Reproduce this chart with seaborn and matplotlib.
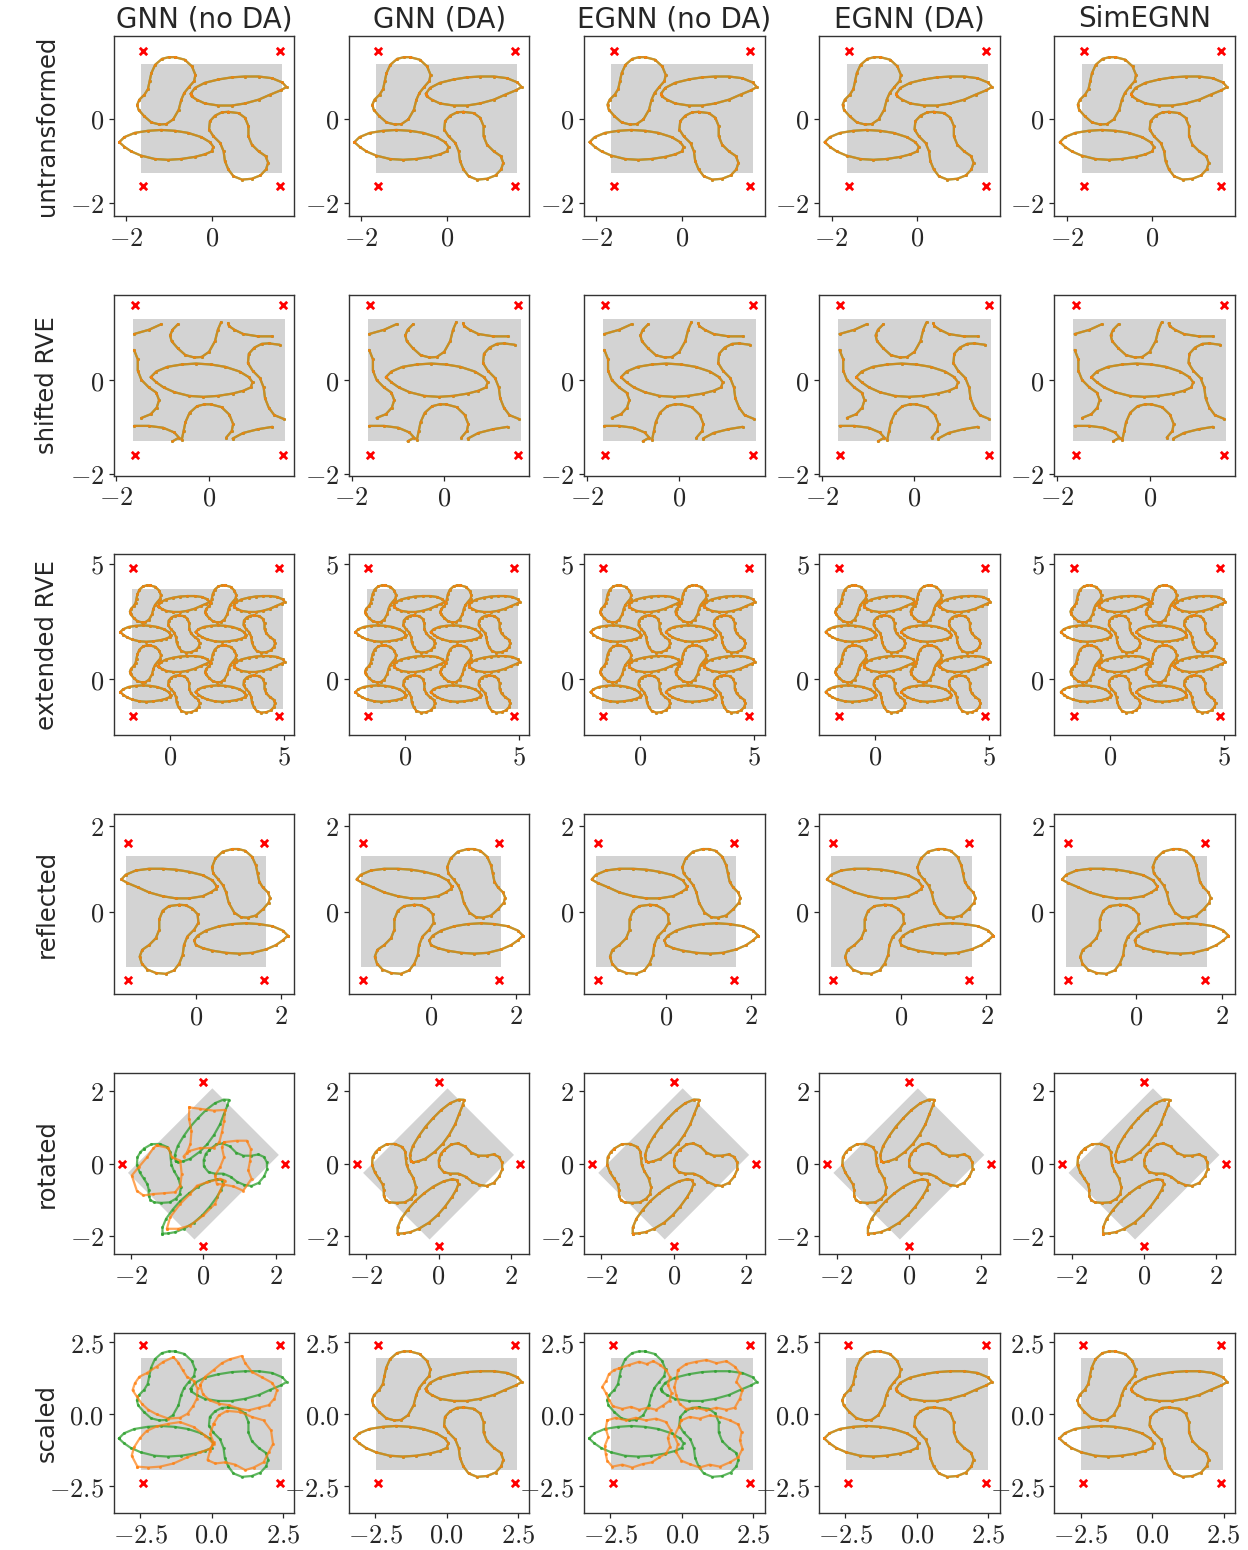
import numpy as np
import pandas as pd
import matplotlib
matplotlib.use("Agg")
import matplotlib.pyplot as plt
import seaborn as sns
from matplotlib.patches import Polygon

# ---------------------------------------------------------------- labels
COLUMN_TITLES = ["GNN (no DA)", "GNN (DA)", "EGNN (no DA)", "EGNN (DA)", "SimEGNN"]
ROW_LABELS = ["untransformed", "shifted RVE", "extended RVE", "reflected", "rotated", "scaled"]

# ---------------------------------------------------------------- unit cell
CELL_HALF_X = 1.65
CELL_HALF_Y = 1.30
CORNER_NODE = 1.6            # virtual corner nodes at (+-1.6, +-1.6)
EXTENDED_CORNERS = [-1.6, 4.8]

# ---------------------------------------------------------------- inclusion outlines
BEAN_A_X = [-0.86, -0.63, -0.46, -0.38, -0.41, -0.53, -0.64, -0.71, -0.77, -0.90, -1.06, -1.22,
            -1.41, -1.58, -1.71, -1.74, -1.69, -1.57, -1.49, -1.45, -1.41, -1.32, -1.16, -1.00]
BEAN_A_Y = [1.46, 1.40, 1.24, 1.04, 0.89, 0.75, 0.61, 0.45, 0.21, -0.02, -0.13, -0.14,
            -0.09, 0.06, 0.21, 0.33, 0.45, 0.57, 0.70, 0.89, 1.08, 1.28, 1.42, 1.46]

LEAF_A_X = [-0.49, -0.39, -0.16, 0.16, 0.47, 0.78, 1.10, 1.41, 1.65, 1.75,
            1.61, 1.37, 1.10, 0.78, 0.47, 0.16, -0.16, -0.35, -0.47]
LEAF_A_Y = [0.59, 0.73, 0.85, 0.93, 0.98, 1.00, 1.00, 0.96, 0.86, 0.75,
            0.67, 0.57, 0.45, 0.36, 0.31, 0.31, 0.36, 0.45, 0.53]

LEAF_B_X = [-2.16, -2.04, -1.80, -1.49, -1.18, -0.86, -0.55, -0.24, -0.04, 0.04,
            0.00, -0.16, -0.39, -0.71, -1.02, -1.33, -1.65, -1.88, -2.04]
LEAF_B_Y = [-0.56, -0.44, -0.34, -0.29, -0.27, -0.29, -0.34, -0.44, -0.56, -0.67,
            -0.78, -0.85, -0.91, -0.96, -0.98, -0.96, -0.88, -0.78, -0.67]

BEAN_B_X = [0.39, 0.63, 0.78, 0.86, 0.86, 0.94, 1.10, 1.26, 1.32, 1.27, 1.14, 0.94,
            0.71, 0.51, 0.39, 0.31, 0.28, 0.20, 0.04, -0.06, -0.04, 0.08, 0.24]
BEAN_B_Y = [0.16, 0.13, 0.02, -0.18, -0.42, -0.62, -0.78, -0.89, -1.05, -1.21, -1.35, -1.43,
            -1.45, -1.37, -1.21, -1.01, -0.78, -0.58, -0.42, -0.26, -0.06, 0.07, 0.15]

# ---------------------------------------------------------------- transformations
SHIFT = (0.90, 0.63)
ROTATION_DEG = 45.0
SCALE = 1.5

# ---------------------------------------------------------------- failed predictions
ROT_GNN_NODA = [
    ([-0.39, -0.09, 0.28, 0.60, 0.57, 0.51, 0.44, 0.28, -0.09, -0.41, -0.55, -0.46, -0.36, -0.33, -0.40],
     [1.56, 1.52, 1.47, 1.49, 1.19, 0.87, 0.60, 0.44, 0.44, 0.35, 0.20, 0.30, 0.55, 0.90, 1.25]),
    ([0.57, 0.92, 1.20, 1.31, 1.29, 1.24, 1.33, 1.10, 0.83, 0.55, 0.37, 0.32, 0.46, 0.57, 0.51],
     [0.60, 0.64, 0.64, 0.41, 0.09, -0.18, -0.41, -0.74, -0.62, -0.57, -0.55, -0.32, -0.09, 0.18, 0.46]),
    ([-1.29, -0.97, -0.87, -0.64, -0.60, -0.64, -0.78, -1.10, -1.38, -1.66, -1.84, -1.98, -1.79, -1.56, -1.38],
     [0.51, 0.44, 0.18, 0.09, -0.28, -0.60, -0.78, -0.81, -0.83, -0.87, -0.74, -0.32, -0.09, 0.18, 0.44]),
    ([-1.01, -0.92, -0.64, -0.37, -0.18, 0.09, 0.46, 0.60, 0.46, 0.32, 0.00, -0.37, -0.69],
     [-1.79, -1.47, -1.10, -0.83, -0.60, -0.51, -0.41, -0.46, -0.74, -1.10, -1.42, -1.70, -1.79]),
]

SCALED_GNN_NODA = [
    ([-1.33, -1.68, -1.92, -2.27, -2.52, -2.68, -2.76, -2.62, -2.44, -2.21, -1.92, -1.51, -1.10,
      -0.84, -0.65, -0.51, -0.49, -0.63, -0.86, -1.01, -1.16],
     [1.99, 1.83, 1.66, 1.43, 1.31, 1.08, 0.84, 0.63, 0.37, 0.16, 0.00, -0.15, -0.12,
      0.02, 0.28, 0.55, 0.90, 1.17, 1.31, 1.54, 1.80]),
    ([-0.40, -0.22, 0.07, 0.36, 0.65, 1.06, 1.18, 1.41, 1.76, 2.11, 2.29, 2.20, 2.00, 1.65,
      1.30, 0.95, 0.60, 0.25, -0.07, -0.30],
     [1.02, 1.31, 1.54, 1.78, 1.92, 2.03, 1.78, 1.48, 1.29, 1.10, 0.84, 0.55, 0.32, 0.23,
      0.14, 0.20, 0.32, 0.37, 0.49, 0.70]),
    ([-2.59, -2.79, -2.71, -2.50, -2.27, -1.92, -1.51, -1.10, -0.63, -0.22, 0.07, -0.05, -0.40,
      -0.86, -1.33, -1.80, -2.21],
     [-1.82, -1.44, -1.15, -0.82, -0.58, -0.42, -0.33, -0.27, -0.44, -0.74, -1.03, -1.20, -1.32,
      -1.50, -1.71, -1.82, -1.85]),
    ([0.07, 0.25, 0.54, 1.01, 1.41, 1.82, 2.08, 2.15, 2.00, 1.82, 1.47, 1.18, 0.83, 0.48, 0.13,
      -0.14, -0.05, 0.07, -0.05],
     [-0.33, -0.04, 0.12, 0.08, -0.09, -0.21, -0.56, -1.03, -1.32, -1.67, -1.85, -1.94, -1.75,
      -1.67, -1.71, -1.59, -1.26, -0.97, -0.68]),
]

SCALED_EGNN_NODA = [
    ([-2.20, -1.84, -1.49, -1.23, -1.00, -0.76, -0.55, -0.41, -0.49, -0.36, -0.43, -0.67, -0.90,
      -1.20, -1.49, -1.78, -2.08, -2.41, -2.55, -2.66, -2.78, -2.64, -2.55, -2.37],
     [1.60, 1.72, 1.83, 1.75, 1.85, 1.72, 1.54, 1.29, 1.02, 0.75, 0.47, 0.30, 0.16,
      0.23, 0.16, 0.26, 0.19, 0.28, 0.51, 0.75, 0.96, 1.17, 1.40, 1.54]),
    ([-0.14, 0.15, 0.51, 0.86, 1.21, 1.56, 1.85, 2.03, 1.91, 2.12, 2.03, 1.85, 1.56, 1.21,
      0.86, 0.51, 0.15, -0.08, -0.20, -0.26, -0.18],
     [1.54, 1.75, 1.83, 1.89, 1.78, 1.85, 1.66, 1.43, 1.13, 0.84, 0.55, 0.23, 0.16, 0.23,
      0.14, 0.23, 0.19, 0.37, 0.67, 0.96, 1.25]),
    ([-2.61, -2.31, -1.96, -1.61, -1.26, -0.90, -0.55, -0.38, -0.49, -0.41, -0.55, -0.79, -1.05,
      -1.37, -1.73, -2.08, -2.43, -2.61, -2.66, -2.69, -2.57, -2.66],
     [-0.21, -0.12, -0.21, -0.12, -0.21, -0.15, -0.27, -0.56, -0.82, -1.12, -1.36, -1.50, -1.67,
      -1.73, -1.85, -1.75, -1.82, -1.61, -1.38, -1.09, -0.79, -0.50]),
    ([-0.02, 0.27, 0.62, 0.97, 1.33, 1.68, 1.97, 2.09, 2.03, 2.12, 1.97, 1.68, 1.33, 0.97,
      0.62, 0.27, -0.02, -0.20, -0.14, -0.26, -0.11],
     [-0.21, -0.09, -0.15, -0.04, -0.09, -0.21, -0.35, -0.62, -0.91, -1.20, -1.50, -1.67, -1.82,
      -1.75, -1.85, -1.73, -1.61, -1.32, -1.03, -0.74, -0.44]),
]

# ---------------------------------------------------------------- axes ranges & ticks
XLIMS = [(-2.29, 1.93), (-2.06, 1.84), (-2.45, 5.46), (-1.93, 2.31), (-2.48, 2.51), (-3.42, 2.89)]
YLIMS = [(-2.32, 1.97), (-2.03, 1.82), (-2.42, 5.40), (-1.93, 2.28), (-2.48, 2.50), (-3.44, 2.84)]
XTICKS = [[-2, 0], [-2, 0], [0, 5], [0, 2], [-2, 0, 2], [-2.5, 0.0, 2.5]]
YTICKS = [[-2, 0], [-2, 0], [0, 5], [0, 2], [-2, 0, 2], [-2.5, 0.0, 2.5]]
TICK_FMT = ["{:g}", "{:g}", "{:g}", "{:g}", "{:g}", "{:.1f}"]

# ---------------------------------------------------------------- styling
sns.set_style("ticks")
plt.rcParams["font.family"] = ["DejaVu Sans"]
plt.rcParams["mathtext.fontset"] = "cm"

GREEN = "#2ca02c"
ORANGE = "#ff7f0e"

BASE_SHAPES = [
    np.column_stack([BEAN_A_X, BEAN_A_Y]),
    np.column_stack([LEAF_A_X, LEAF_A_Y]),
    np.column_stack([LEAF_B_X, LEAF_B_Y]),
    np.column_stack([BEAN_B_X, BEAN_B_Y]),
]
PERIOD = np.array([2 * CELL_HALF_X, 2 * CELL_HALF_Y])
HALF = np.array([CELL_HALF_X, CELL_HALF_Y])


def closed(p):
    return np.vstack([p, p[:1]])


def rect(x0, x1, y0, y1):
    return np.array([[x0, y0], [x1, y0], [x1, y1], [x0, y1]])


def rot(p, deg):
    t = np.deg2rad(deg)
    m = np.array([[np.cos(t), -np.sin(t)], [np.sin(t), np.cos(t)]])
    return p @ m.T


def wrap_split(p):
    """Shift a closed outline inside the periodic cell and cut it where it wraps."""
    q = np.mod(p + np.array(SHIFT) + HALF, PERIOD) - HALF
    q = closed(q)
    jumps = np.where(np.any(np.abs(np.diff(q, axis=0)) > HALF, axis=1))[0]
    if len(jumps) == 0:
        return [q]
    start = jumps[0] + 1
    q = np.vstack([q[start:-1], q[:start]])
    jumps = np.where(np.any(np.abs(np.diff(q, axis=0)) > HALF, axis=1))[0]
    pieces, prev = [], 0
    for j in jumps:
        pieces.append(q[prev:j + 1])
        prev = j + 1
    pieces.append(q[prev:])
    return [s for s in pieces if len(s) > 1]


corners = np.array([[-1, -1], [1, -1], [1, 1], [-1, 1]]) * CORNER_NODE
cell = rect(-CELL_HALF_X, CELL_HALF_X, -CELL_HALF_Y, CELL_HALF_Y)


def row_geometry(r):
    if r == 0:
        return [closed(s) for s in BASE_SHAPES], cell, corners
    if r == 1:
        segs = []
        for s in BASE_SHAPES:
            segs += wrap_split(s)
        return segs, cell, corners
    if r == 2:
        segs = []
        for ox in (0, 1):
            for oy in (0, 1):
                off = PERIOD * np.array([ox, oy])
                segs += [closed(s + off) for s in BASE_SHAPES]
        big = rect(-CELL_HALF_X, CELL_HALF_X + PERIOD[0], -CELL_HALF_Y, CELL_HALF_Y + PERIOD[1])
        ec = np.array([[a, b] for a in EXTENDED_CORNERS for b in EXTENDED_CORNERS])
        return segs, big, ec
    if r == 3:
        flip = np.array([-1, 1])
        return [closed(s * flip) for s in BASE_SHAPES], cell * flip, corners
    if r == 4:
        return ([closed(rot(s, ROTATION_DEG)) for s in BASE_SHAPES],
                rot(cell, ROTATION_DEG), rot(corners, ROTATION_DEG))
    return [closed(s * SCALE) for s in BASE_SHAPES], cell * SCALE, corners * SCALE


PRED_OVERRIDE = {
    (4, 0): ROT_GNN_NODA,
    (5, 0): SCALED_GNN_NODA,
    (5, 2): SCALED_EGNN_NODA,
}


def seg_frame(segs):
    rows = []
    for k, s in enumerate(segs):
        for x, y in s:
            rows.append((k, x, y))
    return pd.DataFrame(rows, columns=["seg", "x", "y"])


def draw_curves(ax, segs, color, alpha):
    df = seg_frame(segs)
    sns.lineplot(data=df, x="x", y="y", units="seg", estimator=None, sort=False,
                 color=color, alpha=alpha, lw=1.6, marker="o", markersize=2.2,
                 markeredgewidth=0, legend=False, ax=ax)


W, H = 1248, 1550
fig = plt.figure(figsize=(W / 100, H / 100), dpi=100)

AX_SIZE = 180.5
for r in range(6):
    segs, poly, nodes = row_geometry(r)
    for c in range(5):
        left = 113.7 + 235.15 * c
        top = 35.7 + 259.4 * r
        ax = fig.add_axes([left / W, 1 - (top + AX_SIZE) / H, AX_SIZE / W, AX_SIZE / H])
        ax.add_patch(Polygon(poly, closed=True, facecolor="lightgray", edgecolor="none", zorder=0))
        draw_curves(ax, segs, GREEN, 0.75)
        if (r, c) in PRED_OVERRIDE:
            pred = [closed(np.column_stack(p)) for p in PRED_OVERRIDE[(r, c)]]
        else:
            pred = segs
        draw_curves(ax, pred, ORANGE, 0.7)
        sns.scatterplot(x=nodes[:, 0], y=nodes[:, 1], marker="x", color="red", s=28,
                        linewidth=2.0, legend=False, ax=ax, zorder=5)
        ax.set_xlim(*XLIMS[r])
        ax.set_ylim(*YLIMS[r])
        fmt = TICK_FMT[r]
        ax.set_xticks(XTICKS[r], ["$" + fmt.format(v) + "$" for v in XTICKS[r]])
        ax.set_yticks(YTICKS[r], ["$" + fmt.format(v) + "$" for v in YTICKS[r]])
        ax.tick_params(labelsize=19, length=3.5, width=0.9, pad=3.5)
        ax.set_xlabel("")
        ax.set_ylabel("")
        for sp in ax.spines.values():
            sp.set_color("#333333")
            sp.set_linewidth(1.0)
        if r == 0:
            ax.set_title(COLUMN_TITLES[c], fontsize=20, pad=6)
    center = 1 - (35.7 + 259.4 * r + AX_SIZE / 2) / H
    fig.text(47 / W, center, ROW_LABELS[r], rotation=90, ha="center", va="center", fontsize=17.5)

fig.savefig("out.png", dpi=100)
